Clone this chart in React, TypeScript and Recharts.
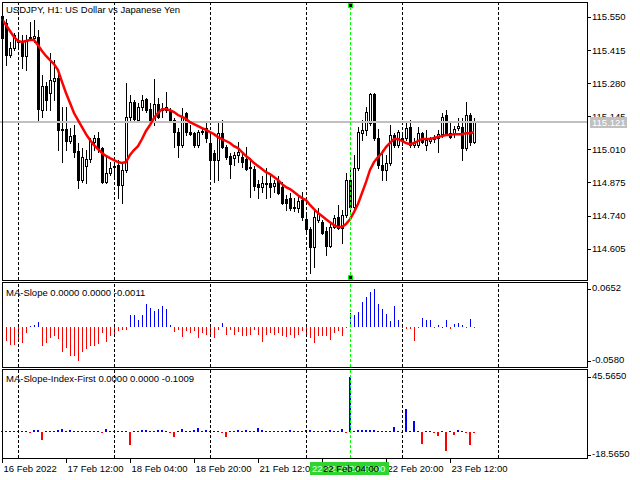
import React from 'react';
import { ComposedChart, Bar, Line, XAxis, YAxis, ReferenceLine } from 'recharts';

const FONT = '"Liberation Sans", Arial, sans-serif';
const FS = 9.5;

// USDJPY H1 candles, 16 Feb 20:00 .. 23 Feb 18:00
const opens = [
  115.554, 115.525, 115.395, 115.423, 115.452, 115.448, 115.391, 115.468, 115.464, 115.468,
  115.170, 115.268, 115.240, 115.289, 115.301, 115.093, 115.093, 115.044, 115.068, 115.003,
  114.885, 114.942, 114.970, 115.040, 115.056, 115.015, 114.876, 114.913, 114.942, 114.946,
  114.864, 114.926, 115.142, 115.203, 115.129, 115.182, 115.215, 115.174, 115.121, 115.195,
  115.170, 115.170, 115.170, 115.129, 115.080, 115.027, 115.158, 115.080, 115.076, 115.027,
  115.080, 115.097, 115.036, 114.995, 114.966, 115.076, 115.019, 114.983, 114.974, 114.987,
  114.978, 114.970, 114.934, 114.930, 114.868, 114.856, 114.872, 114.872, 114.860, 114.885,
  114.856, 114.807, 114.811, 114.774, 114.770, 114.803, 114.725, 114.685, 114.611, 114.721,
  114.713, 114.677, 114.615, 114.693, 114.734, 114.689, 114.742, 114.885, 114.774, 114.934,
  115.076, 115.089, 115.117, 115.236, 115.056, 114.946, 114.926, 114.954, 115.068, 115.027,
  115.048, 115.056, 115.101, 115.027, 115.027, 115.076, 115.027, 115.044, 115.052, 115.056,
  115.072, 115.150, 115.076, 115.072, 115.097, 115.101, 115.015, 115.150, 115.040,
];
const highs = [
  115.566, 115.541, 115.448, 115.484, 115.484, 115.476, 115.476, 115.529, 115.537, 115.497,
  115.313, 115.285, 115.403, 115.374, 115.321, 115.182, 115.182, 115.097, 115.109, 115.036,
  115.015, 115.007, 115.056, 115.068, 115.080, 115.019, 114.978, 114.958, 114.958, 114.966,
  114.958, 115.280, 115.231, 115.211, 115.199, 115.231, 115.219, 115.199, 115.297, 115.219,
  115.199, 115.244, 115.178, 115.138, 115.097, 115.178, 115.162, 115.109, 115.080, 115.089,
  115.097, 115.117, 115.080, 115.007, 115.117, 115.129, 115.027, 114.995, 114.999, 115.040,
  114.999, 115.019, 114.974, 114.942, 114.885, 114.901, 114.934, 114.905, 114.885, 114.901,
  114.876, 114.823, 114.832, 114.811, 114.823, 114.836, 114.750, 114.693, 114.762, 114.770,
  114.721, 114.693, 114.709, 114.742, 114.783, 114.762, 114.913, 114.934, 114.987, 115.101,
  115.129, 115.182, 115.240, 115.240, 115.093, 115.007, 114.987, 115.109, 115.076, 115.089,
  115.076, 115.121, 115.129, 115.056, 115.101, 115.080, 115.089, 115.060, 115.068, 115.089,
  115.158, 115.170, 115.121, 115.105, 115.138, 115.138, 115.203, 115.158, 115.138,
];
const lows = [
  115.456, 115.354, 115.386, 115.415, 115.427, 115.342, 115.333, 115.456, 115.448, 115.121,
  115.142, 115.170, 115.170, 115.211, 115.007, 114.958, 115.007, 115.036, 114.978, 114.852,
  114.876, 114.872, 114.958, 115.007, 114.999, 114.872, 114.872, 114.905, 114.897, 114.811,
  114.791, 114.917, 115.129, 115.129, 115.125, 115.170, 115.162, 115.109, 115.109, 115.138,
  115.142, 115.162, 115.121, 115.019, 114.978, 115.019, 115.068, 115.068, 115.019, 115.019,
  115.072, 115.040, 114.893, 114.876, 114.885, 115.015, 114.970, 114.893, 114.946, 114.958,
  114.938, 114.926, 114.815, 114.844, 114.811, 114.836, 114.811, 114.815, 114.836, 114.827,
  114.787, 114.762, 114.762, 114.758, 114.754, 114.721, 114.672, 114.505, 114.530, 114.713,
  114.664, 114.579, 114.611, 114.689, 114.685, 114.628, 114.734, 114.758, 114.770, 114.926,
  115.048, 115.068, 115.109, 115.048, 114.934, 114.885, 114.885, 114.946, 115.019, 115.019,
  115.027, 115.048, 115.019, 115.019, 115.019, 115.036, 115.007, 115.036, 115.040, 114.999,
  115.060, 115.068, 115.056, 115.060, 115.089, 114.966, 115.007, 115.027, 115.036,
];
const closes = [
  115.464, 115.395, 115.423, 115.476, 115.448, 115.391, 115.456, 115.464, 115.472, 115.174,
  115.268, 115.211, 115.293, 115.301, 115.089, 115.089, 115.044, 115.064, 114.999, 114.885,
  114.978, 114.970, 115.044, 115.056, 115.015, 114.876, 114.913, 114.934, 114.938, 114.864,
  114.926, 115.142, 115.203, 115.134, 115.182, 115.211, 115.170, 115.121, 115.195, 115.142,
  115.178, 115.182, 115.129, 115.080, 115.027, 115.142, 115.080, 115.072, 115.027, 115.080,
  115.085, 115.056, 114.966, 114.966, 115.076, 115.019, 114.978, 114.950, 114.987, 114.999,
  114.958, 114.930, 114.938, 114.860, 114.856, 114.872, 114.868, 114.856, 114.872, 114.832,
  114.791, 114.791, 114.770, 114.770, 114.799, 114.734, 114.685, 114.611, 114.734, 114.750,
  114.668, 114.615, 114.693, 114.730, 114.689, 114.742, 114.885, 114.774, 114.934, 115.080,
  115.089, 115.162, 115.236, 115.056, 114.946, 114.926, 114.954, 115.068, 115.027, 115.080,
  115.056, 115.097, 115.027, 115.040, 115.076, 115.040, 115.048, 115.052, 115.060, 115.072,
  115.142, 115.076, 115.060, 115.093, 115.105, 115.015, 115.150, 115.040, 115.121,
];

// red moving average
const maValues = [
  115.541, 115.517, 115.493, 115.468, 115.452, 115.448, 115.452, 115.456, 115.456, 115.435,
  115.411, 115.391, 115.374, 115.358, 115.333, 115.285, 115.240, 115.199, 115.158, 115.129,
  115.101, 115.072, 115.048, 115.027, 115.011, 114.995, 114.983, 114.974, 114.966, 114.958,
  114.954, 114.958, 114.987, 115.007, 115.023, 115.052, 115.085, 115.109, 115.138, 115.158,
  115.174, 115.174, 115.170, 115.162, 115.150, 115.142, 115.134, 115.121, 115.113, 115.105,
  115.097, 115.089, 115.080, 115.072, 115.060, 115.052, 115.044, 115.036, 115.023, 115.015,
  114.999, 114.983, 114.970, 114.954, 114.942, 114.930, 114.917, 114.909, 114.897, 114.885,
  114.868, 114.856, 114.848, 114.836, 114.823, 114.811, 114.803, 114.783, 114.766, 114.750,
  114.738, 114.725, 114.713, 114.701, 114.693, 114.693, 114.705, 114.725, 114.754, 114.787,
  114.832, 114.876, 114.926, 114.958, 114.978, 114.995, 115.019, 115.036, 115.052, 115.052,
  115.044, 115.036, 115.031, 115.036, 115.044, 115.052, 115.052, 115.052, 115.056, 115.060,
  115.064, 115.068, 115.068, 115.072, 115.072, 115.072, 115.076, 115.076, 115.080,
];

// MA-Slope histogram
const slopeValues = [
  -0.0200, -0.0243, -0.0311, -0.0311, -0.0226, -0.0271, -0.0100, 0.0026, 0.0043, 0.0082,
  -0.0329, -0.0271, -0.0185, -0.0157, -0.0202, -0.0424, -0.0356, -0.0488, -0.0499, -0.0580,
  -0.0431, -0.0373, -0.0329, -0.0317, -0.0282, -0.0100, -0.0260, -0.0145, -0.0150, -0.0072,
  -0.0043, -0.0043, 0.0214, 0.0202, 0.0128, 0.0214, 0.0402, 0.0322, 0.0270, 0.0310,
  0.0356, 0.0310, 0.0043, -0.0089, -0.0043, -0.0168, -0.0072, -0.0100, -0.0072, -0.0185,
  -0.0100, -0.0128, -0.0110, -0.0185, -0.0043, 0.0071, -0.0128, -0.0043, -0.0128, -0.0089,
  -0.0145, -0.0145, -0.0128, -0.0043, -0.0128, -0.0260, -0.0128, -0.0100, -0.0128, -0.0100,
  -0.0157, -0.0168, -0.0128, -0.0185, -0.0128, -0.0072, -0.0168, -0.0185, -0.0271, -0.0157,
  -0.0157, -0.0157, -0.0226, -0.0100, -0.0072, -0.0145, -0.0015, 0.0243, 0.0214, 0.0253,
  0.0436, 0.0517, 0.0607, 0.0652, 0.0402, 0.0311, 0.0231, 0.0099, 0.0356, 0.0128,
  -0.0020, -0.0029, -0.0029, -0.0243, -0.0020, 0.0157, 0.0128, 0.0117, -0.0020, 0.0043,
  0.0005, 0.0117, -0.0029, 0.0060, 0.0071, 0.0043, -0.0020, 0.0140, -0.0020,
];

// MA-Slope-Index-First histogram
const indexValues = [
  1.2, 1.2, 1.2, 1.2, 1.2, 0.8, 0.8, -0.8, 1.9, 1.9,
  -6.1, 0.8, 0.8, 1.2, 1.9, 2.4, 1.2, 1.9, 1.2, 1.2,
  1.2, 1.2, 1.2, 1.2, 0.8, -0.8, 3.0, 1.2, 1.2, 1.2,
  0.8, 0.8, -10.2, 0.8, 1.2, 2.2, 2.2, 1.2, 1.2, 1.9,
  1.9, 1.2, -0.8, -3.9, 1.2, 3.0, 1.2, 1.2, 1.9, 3.8,
  1.2, 1.9, 1.2, 1.2, 0.8, -0.8, -3.9, 0.8, 1.2, 1.9,
  1.2, 1.9, 1.2, 0.8, 3.8, 2.2, 1.2, 1.2, 1.2, 1.2,
  1.2, 1.2, 1.9, 1.2, 1.2, 1.2, 1.9, 1.9, 1.2, 1.2,
  1.2, 1.2, 1.9, 1.2, 1.2, 3.0, -0.8, 45.5, 1.2, 1.9,
  2.2, 1.9, 1.9, 1.9, 1.2, 1.2, 1.2, 1.2, 4.4, 1.2,
  -0.8, 19.2, 1.2, 9.0, 0.8, -9.4, 1.2, 1.2, -0.8, -2.8,
  0.8, -15.2, 0.8, -2.2, 1.9, 0.8, -0.8, -10.2, -0.8,
];

const SLOTS = 147; // bars that fit across the window, incl. empty space on the right
const dayStarts = [4, 28, 52, 76, 100, 124];
const cursorBar = 87;
const lastPrice = 115.121;

const priceTicks = [114.605, 114.74, 114.875, 115.01, 115.145, 115.28, 115.415, 115.55];
const slopeTicks = [-0.058, 0.0652];
const indexTicks = [-18.565, 45.565];
const timeTickBars = [0, 16, 32, 48, 64, 80, 96, 112];
const timeTickLabels = [
  '16 Feb 2022', '17 Feb 12:00', '18 Feb 04:00', '18 Feb 20:00',
  '21 Feb 12:00', '22 Feb 04:00', '22 Feb 20:00', '23 Feb 12:00',
];

const rows = Array.from({ length: SLOTS }, (_, i) => ({
  i,
  open: opens[i],
  high: highs[i],
  low: lows[i],
  close: closes[i],
  ma: maValues[i],
  slope: slopeValues[i],
  idx: indexValues[i],
}));

const Candle = (props: any) => {
  const { x, y, width, height, payload } = props;
  if (!payload || payload.high == null || !isFinite(y) || !isFinite(height)) return <g />;
  const top = Math.min(y, y + height);
  const bottom = Math.max(y, y + height);
  const k = (bottom - top) / (payload.high - payload.low || 1);
  const toY = (v: number) => top + (payload.high - v) * k;
  const cx = Math.floor(x + width / 2) + 0.5;
  const yo = Math.round(toY(payload.open));
  const yc = Math.round(toY(payload.close));
  const bTop = Math.min(yo, yc);
  const bBot = Math.max(yo, yc);
  const up = payload.close > payload.open;
  return (
    <g>
      <line x1={cx} x2={cx} y1={Math.round(top)} y2={Math.round(bottom) + 1} stroke="#000" strokeWidth={1} />
      {bBot - bTop < 1 ? (
        <line x1={cx - 1.5} x2={cx + 1.5} y1={bTop + 0.5} y2={bTop + 0.5} stroke="#000" strokeWidth={1} />
      ) : (
        <rect x={cx - 1} y={bTop + 0.5} width={2} height={bBot - bTop}
          fill={up ? '#fff' : '#000'} stroke="#000" strokeWidth={1} />
      )}
    </g>
  );
};

const makeStick = (key: string, w: number) => (props: any) => {
  const { x, y, width, height, payload } = props;
  const v = payload ? payload[key] : null;
  if (v == null || !isFinite(y) || !isFinite(height)) return <g />;
  const top = Math.round(Math.min(y, y + height));
  const bot = Math.round(Math.max(y, y + height));
  const left = w === 1 ? Math.floor(x + width / 2) : Math.round(x);
  return <rect x={left} y={top} width={w} height={Math.max(1, bot - top)} fill={v >= 0 ? '#0000ff' : '#ff0000'} />;
};
const SlopeStick = makeStick('slope', 1);
const IndexStick = makeStick('idx', 2);

const VLine = (p: any) => {
  const xx = Math.floor(p.x1) + 0.5;
  return <line x1={xx} x2={xx} y1={p.y1} y2={p.y2} stroke={p.stroke} strokeWidth={1} strokeDasharray="3 2" />;
};

const CursorMarks = (p: any) => {
  const vb = p.viewBox;
  if (!vb) return null;
  const cx = Math.floor(vb.x);
  const sq = (yy: number) => (
    <g>
      <rect x={cx - 2} y={yy} width={5} height={5} fill="#00ff00" />
      <rect x={cx - 1} y={yy + 1} width={3} height={3} fill="#000" />
    </g>
  );
  return <g>{sq(vb.y + 1)}{sq(vb.y + vb.height - 5)}</g>;
};

const makeAxisTick = (digits: number, dy: number) => (p: any) => {
  const { x, y, payload } = p;
  const ty = Math.round(y) + 0.5;
  if (payload.value === lastPrice && digits === 3) {
    // grey tag with the last bid price, painted over the scale
    const yy = Math.round(y);
    return (
      <g>
        <rect x={x + 2} y={yy - 5} width={37} height={11} fill="#c0c0c0" />
        <text x={x + 4} y={yy + 3.5} fill="#fff" fontSize={FS} fontFamily={FONT}>{lastPrice.toFixed(3)}</text>
      </g>
    );
  }
  return (
    <g>
      <line x1={x} x2={x + 3} y1={ty} y2={ty} stroke="#000" />
      <text x={x + 4} y={y + dy + 3.5} fill="#000" fontSize={FS} fontFamily={FONT}>
        {Number(payload.value).toFixed(digits)}
      </text>
    </g>
  );
};
const PriceTick = makeAxisTick(3, 0);
const SmallTick = makeAxisTick(4, -1.5);

const TimeTick = (p: any) => {
  const { x, payload } = p;
  const k = timeTickBars.indexOf(payload.value);
  if (k < 0) return null;
  const cx = Math.floor(x) + 0.5;
  return (
    <g>
      <line x1={cx} x2={cx} y1={88} y2={93} stroke="#000" />
      <text x={cx + 1} y={101.5} fill="#000" fontSize={FS} fontFamily={FONT}>{timeTickLabels[k]}</text>
    </g>
  );
};

const separators = (prefix: string) =>
  dayStarts.map((d) => (
    <ReferenceLine key={prefix + d} x={d} stroke="#000" shape={VLine} ifOverflow="extendDomain" />
  ));

const W = 640;
const noMargin = { top: 0, right: 0, bottom: 0, left: 0 };

export default function App() {
  return (
    <div style={{ position: 'absolute', left: 0, top: 0, width: 640, height: 480, background: '#fff', overflow: 'hidden' }}>
      {/* price window */}
      <div style={{ position: 'absolute', left: 0, top: 0 }}>
        <ComposedChart width={W} height={282} data={rows} margin={{ top: 2, right: 0, bottom: 2, left: 0 }}>
          <XAxis dataKey="i" hide />
          <YAxis orientation="right" width={52} domain={[114.477, 115.611]} allowDataOverflow
            ticks={[...priceTicks, lastPrice]} interval={0} tick={<PriceTick />} tickLine={false} axisLine={false} tickSize={0} tickMargin={0} />
          {separators('m')}
          <ReferenceLine y={lastPrice} stroke="#c0c0c0" strokeWidth={2} />
          <Bar dataKey={(d: any) => (d.high == null ? undefined : [d.low, d.high])} barSize={3}
            shape={<Candle />} isAnimationActive={false} />
          <Line dataKey="ma" stroke="#ff0000" strokeWidth={2.5} dot={false} activeDot={false} type="linear" isAnimationActive={false} />
          <ReferenceLine x={cursorBar} stroke="#00ff00" shape={VLine} label={<CursorMarks />} />
        </ComposedChart>
      </div>

      {/* MA-Slope window */}
      <div style={{ position: 'absolute', left: 0, top: 283 }}>
        <ComposedChart width={W} height={84} data={rows} margin={noMargin}>
          <XAxis dataKey="i" hide />
          <YAxis orientation="right" width={52} domain={[-0.0683, 0.0755]} allowDataOverflow
            ticks={slopeTicks} interval={0} tick={<SmallTick />} tickLine={false} axisLine={false} tickSize={0} tickMargin={0} />
          {separators('s')}
          <Bar dataKey="slope" barSize={1} shape={<SlopeStick />} isAnimationActive={false} />
          <ReferenceLine x={cursorBar} stroke="#00ff00" shape={VLine} />
        </ComposedChart>
      </div>

      {/* MA-Slope-Index-First window + time scale */}
      <div style={{ position: 'absolute', left: 0, top: 370 }}>
        <ComposedChart width={W} height={108} data={rows} margin={noMargin}>
          <XAxis dataKey="i" height={20} ticks={timeTickBars} interval={0} tick={<TimeTick />}
            tickLine={false} axisLine={false} tickSize={0} tickMargin={0} />
          <YAxis orientation="right" width={52} domain={[-21.15, 51.3]} allowDataOverflow
            ticks={indexTicks} interval={0} tick={<SmallTick />} tickLine={false} axisLine={false} tickSize={0} tickMargin={0} />
          {separators('x')}
          <Bar dataKey="idx" barSize={2} shape={<IndexStick />} isAnimationActive={false} />
          <ReferenceLine x={cursorBar} stroke="#00ff00" shape={VLine} />
        </ComposedChart>
      </div>

      {/* window frames, titles, crosshair time box */}
      <svg width={640} height={480} style={{ position: 'absolute', left: 0, top: 0, pointerEvents: 'none' }}>
        <rect x={2.5} y={2.5} width={585} height={278} fill="none" stroke="#000" />
        <rect x={2.5} y={282.5} width={585} height={85} fill="none" stroke="#000" />
        <rect x={2.5} y={369.5} width={585} height={89} fill="none" stroke="#000" />
        <g fontFamily={FONT} fontSize={FS} fill="#000" style={{ whiteSpace: 'pre' }}>
          <text x={6} y={13}>USDJPY, H1:  US Dollar vs Japanese Yen</text>
          <text x={6} y={295.5}>MA-Slope 0.0000 0.0000 -0.0011</text>
          <text x={6} y={382}>MA-Slope-Index-First 0.0000 0.0000 -0.1009</text>
        </g>
        <rect x={310} y={462} width={79} height={13} fill="#2fd52f" />
        <text x={312} y={472} fill="#e8ffe8" fontSize={FS} fontFamily={FONT} style={{ whiteSpace: 'pre' }}>22.02.2022 11:00</text>
        <text x={323} y={471.5} fill="#000" fontSize={FS} fontFamily={FONT}>22 Feb 04:00</text>
      </svg>
    </div>
  );
}
